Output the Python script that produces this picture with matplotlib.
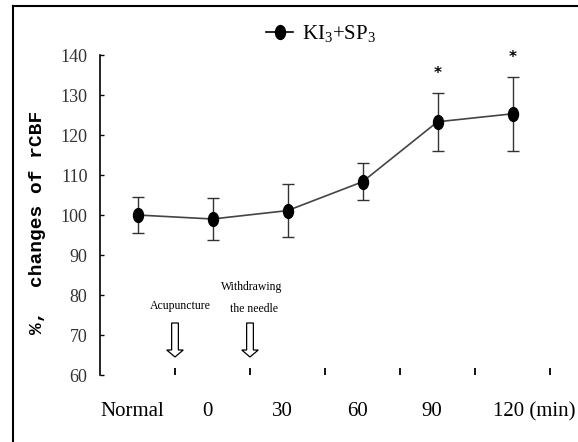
import matplotlib
matplotlib.use("Agg")
import matplotlib.pyplot as plt
from matplotlib.markers import MarkerStyle
from matplotlib.transforms import Affine2D
from matplotlib.lines import Line2D
from matplotlib.patches import FancyArrow
import numpy as np

plt.rcParams['mathtext.fontset'] = 'custom'
plt.rcParams['mathtext.rm'] = 'Liberation Serif'
plt.rcParams['mathtext.default'] = 'rm'

# data
categories = ["Normal", "0", "30", "60", "90", "120 (min)"]
means = [100.0, 99.0, 101.1, 108.3, 123.3, 125.3]
errs = [4.4, 5.2, 6.7, 4.6, 7.3, 9.2]
significant = [False, False, False, False, True, True]
series_label = "KI$_{3}$+SP$_{3}$"
events = ["Acupuncture", "Withdrawing\nthe needle"]
event_pos = [0.5, 1.5]

x = np.arange(len(categories))

fig = plt.figure(figsize=(5.78, 4.42), dpi=100)
ax = fig.add_axes([100/578, 67/442, 450/578, 320/442])

oval = MarkerStyle('o', transform=Affine2D().scale(0.72, 1.0))
ax.errorbar(x, means, yerr=errs, fmt='none', ecolor='#333333', elinewidth=1.0,
            capsize=4, capthick=1.0, zorder=2)
ax.plot(x, means, color='#444444', lw=1.2, zorder=3)
ax.plot(x, means, ls='none', marker=oval, ms=10, color='black', zorder=4)

# significance stars
for xi, m, e, s in zip(x, means, errs, significant):
    if s:
        ax.annotate("*", (xi, m + e), xytext=(0, 14), textcoords='offset points',
                    ha='center', va='center', fontsize=11, fontweight='bold',
                    family='DejaVu Sans')

ax.set_xlim(-0.5, 5.5)
ax.set_ylim(60, 140)
ax.set_yticks(np.arange(60, 141, 10))
ax.set_xticks(np.arange(0.5, 6, 1.0))
ax.set_xticklabels([])
ax.tick_params(axis='x', direction='in', length=5, width=1.3, color='black')
ax.tick_params(axis='y', direction='in', length=3, width=1.0, pad=9,
               labelsize=13, labelcolor='#333333')
for lab in ax.get_yticklabels():
    lab.set_family('Liberation Serif')
for sp in ['top', 'right', 'bottom']:
    ax.spines[sp].set_visible(False)
ax.spines['left'].set_linewidth(1.2)

# category labels below
trans = ax.get_xaxis_transform()
for xi, c in zip(x, categories):
    if c.endswith("(min)"):
        ax.text(xi - 0.26, -0.115, c, transform=trans, ha='left', va='center',
                fontsize=15, family='Liberation Serif')
    else:
        ax.text(xi - 0.07, -0.115, c, transform=trans, ha='center', va='center',
                fontsize=15, family='Liberation Serif')

# event arrows
for xp, ev in zip(event_pos, events):
    ax.add_patch(FancyArrow(xp, 73, 0, -8.5, width=0.09, head_width=0.22,
                            head_length=1.75, length_includes_head=True,
                            facecolor='white', edgecolor='black', lw=0.9,
                            clip_on=False))
    lines = ev.split("\n")
    if len(lines) == 1:
        ax.text(xp + 0.07, 77.2, lines[0], ha='center', va='center',
                fontsize=8.5, family='Liberation Serif')
    else:
        ax.text(xp + 0.02, 82.0, lines[0], ha='center', va='center',
                fontsize=8.5, family='Liberation Serif')
        ax.text(xp + 0.05, 76.5, lines[1], ha='center', va='center',
                fontsize=8.5, family='Liberation Serif')

fig.text(38/578, 1 - 222/442, "%,  changes of rCBF", rotation=90,
         ha='center', va='center', fontsize=14, fontweight='bold',
         family='Liberation Mono')

handle = Line2D([], [], color='black', lw=1.2, marker=oval, ms=10)
fig.legend([handle], [series_label], loc='center left',
           bbox_to_anchor=(266/578, 1 - 34/442), frameon=False, borderpad=0,
           borderaxespad=0, handlelength=1.3, handletextpad=0.45,
           prop={'family': 'Liberation Serif', 'size': 15})

# outer frame: only its left and top edges fall inside the picture
fx, fy = 13/578, 1 - 6/442
fig.add_artist(Line2D([fx, fx], [0, fy], transform=fig.transFigure,
                      color='black', lw=1.5))
fig.add_artist(Line2D([fx, 1], [fy, fy], transform=fig.transFigure,
                      color='black', lw=1.5))

fig.savefig("out.png", dpi=100)
